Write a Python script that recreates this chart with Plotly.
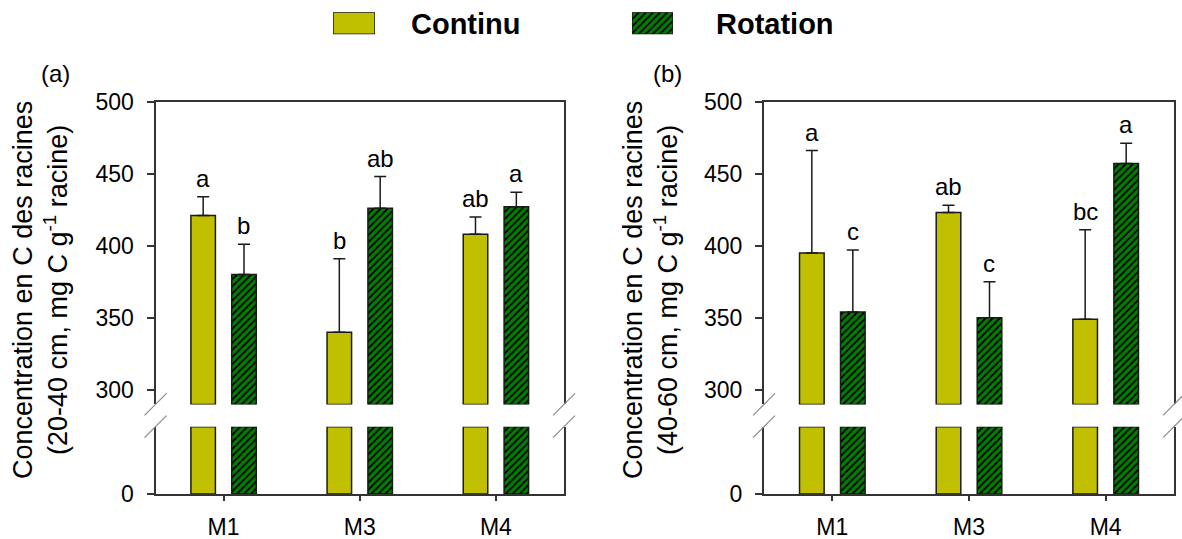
import numpy as np
import plotly.graph_objects as go

# ---------------- data ----------------
categories = ["M1", "M3", "M4"]
series_names = ["Continu", "Rotation"]

# panel (a) 20-40 cm
a_continu = [421, 340, 408]
a_continu_err = [13, 51, 12]
a_rotation = [380, 426, 427]
a_rotation_err = [21, 22, 10]
a_letters_continu = ["a", "b", "ab"]
a_letters_rotation = ["b", "ab", "a"]

# panel (b) 40-60 cm
b_continu = [395, 423, 349]
b_continu_err = [71, 5, 62]
b_rotation = [354, 350, 457]
b_rotation_err = [43, 25, 14]
b_letters_continu = ["a", "ab", "bc"]
b_letters_rotation = ["c", "c", "a"]

upper_ticks = [300, 350, 400, 450, 500]
lower_ticks = [0]

# ---------------- style / layout ----------------
W, H = 1182, 539
FONT = "Liberation Sans, Arial, sans-serif"
C_CONT = "#c0c000"
C_ROT = "#008000"
LINE = "#333333"
EDGE = "#1a1a1a"

UPPER_MIN, UPPER_MAX = 290, 500
LOWER_MIN, LOWER_MAX = 0, 50


def px_x(p):
    return p / W


def px_y(p):
    return 1 - p / H


PANEL_X = [(155.5, 564.0), (764.0, 1174.0)]
UP_Y = (101.5, 404.4)
LO_Y = (426.7, 494.0)
GROUP_OFFSET_PX = 20.4

fig = go.Figure()

panels = [
    (a_continu, a_continu_err, a_rotation, a_rotation_err, a_letters_continu, a_letters_rotation,
     "(20-40 cm, mg C g<sup>-1</sup> racine)", "(a)"),
    (b_continu, b_continu_err, b_rotation, b_rotation_err, b_letters_continu, b_letters_rotation,
     "(40-60 cm, mg C g<sup>-1</sup> racine)", "(b)"),
]

annotations = []
shapes = []

for pi, (cv, ce, rv, re_, lc, lr, sub, plabel) in enumerate(panels):
    up = 2 * pi + 1
    lo = 2 * pi + 2
    xu = "x" if up == 1 else f"x{up}"
    yu = "y" if up == 1 else f"y{up}"
    xl, yl = f"x{lo}", f"y{lo}"
    for name, vals, errs, color, pat in [
        ("Continu", cv, ce, C_CONT, ""),
        ("Rotation", rv, re_, C_ROT, "/"),
    ]:
        vals = np.array(vals, dtype=float)
        marker = dict(color=color, line=dict(color=EDGE, width=1.5),
                      pattern=dict(shape=pat, fgcolor="#000000", bgcolor=color,
                                   size=5, solidity=0.35, fillmode="replace"))
        fig.add_trace(go.Bar(
            x=categories, y=vals - UPPER_MIN, base=UPPER_MIN, name=name,
            marker=marker, xaxis=xu, yaxis=yu, showlegend=False,
            error_y=dict(type="data", symmetric=False, array=errs,
                         arrayminus=[0] * len(errs), color=EDGE, thickness=1.5, width=6),
        ))
        fig.add_trace(go.Bar(
            x=categories, y=np.minimum(vals, LOWER_MAX), name=name,
            marker=marker, xaxis=xl, yaxis=yl, showlegend=False,
        ))

    # letters
    for vals, errs, letters, sign in [(cv, ce, lc, -1), (rv, re_, lr, 1)]:
        for c, v, e, t in zip(categories, vals, errs, letters):
            annotations.append(dict(
                x=c, y=v + e, xref=xu, yref=yu, text=t, showarrow=False,
                xshift=sign * GROUP_OFFSET_PX, yshift=3, yanchor="bottom", xanchor="center",
                font=dict(family=FONT, size=24, color="#000"),
            ))

    x0, x1 = PANEL_X[pi]
    dom_x = [px_x(x0), px_x(x1)]
    common_x = dict(type="category", categoryorder="array", categoryarray=categories,
                    range=[-0.5, 2.5], domain=dom_x, showgrid=False, zeroline=False,
                    linecolor=LINE, linewidth=2, automargin=False)
    fig.update_layout(**{
        ("xaxis" if up == 1 else f"xaxis{up}"): dict(
            common_x, anchor=yu, side="top", showline=True, ticks="",
            showticklabels=False),
        f"xaxis{lo}": dict(
            common_x, anchor=yl, side="bottom", showline=True, ticks="outside",
            ticklen=5, tickwidth=2, tickcolor=LINE, ticklabelstandoff=6,
            tickfont=dict(family=FONT, size=23, color="#000")),
        ("yaxis" if up == 1 else f"yaxis{up}"): dict(
            anchor=xu, domain=[px_y(UP_Y[1]), px_y(UP_Y[0])], range=[UPPER_MIN, UPPER_MAX],
            tickvals=upper_ticks, showgrid=False, zeroline=False, showline=True, mirror=True,
            linecolor=LINE, linewidth=2, ticks="outside", ticklen=7, tickwidth=2,
            tickcolor=LINE, ticklabelstandoff=8, automargin=False,
            tickfont=dict(family=FONT, size=23, color="#000")),
        f"yaxis{lo}": dict(
            anchor=xl, domain=[px_y(LO_Y[1]), px_y(LO_Y[0])], range=[LOWER_MIN, LOWER_MAX],
            tickvals=lower_ticks, showgrid=False, zeroline=False, showline=True, mirror=True,
            linecolor=LINE, linewidth=2, ticks="outside", ticklen=7, tickwidth=2,
            tickcolor=LINE, ticklabelstandoff=8, automargin=False,
            tickfont=dict(family=FONT, size=23, color="#000")),
    })

    # axis title
    tx = 40 if pi == 0 else 650
    annotations.append(dict(
        x=px_x(tx), y=px_y(290), xref="paper", yref="paper", showarrow=False,
        text="Concentration en C des racines<br>" + sub, textangle=-90,
        xanchor="center", yanchor="middle",
        font=dict(family=FONT, size=27, color="#000")))
    # panel label
    lx = 39 if pi == 0 else 651
    annotations.append(dict(
        x=px_x(lx), y=px_y(74), xref="paper", yref="paper", showarrow=False,
        text=plabel, xanchor="left", yanchor="middle",
        font=dict(family=FONT, size=24, color="#000")))

    # axis-break marks
    for ax_px in (x0, x1):
        for yb in (UP_Y[1], LO_Y[0]):
            shapes.append(dict(
                type="line", xref="paper", yref="paper",
                x0=px_x(ax_px - 11), y0=px_y(yb + 11), x1=px_x(ax_px + 11), y1=px_y(yb - 11),
                line=dict(color="#8c8c8c", width=1.2)))

# ---------------- legend swatches (own small axes) ----------------
swatches = [
    ("Continu", C_CONT, "", (333, 375), 409),
    ("Rotation", C_ROT, "/", (632, 673), 714),
]
for i, (name, color, pat, (sx0, sx1), tx) in enumerate(swatches):
    n = 5 + i
    fig.add_trace(go.Bar(
        x=[0.5], y=[1], width=[1], name=name, showlegend=False, cliponaxis=False,
        marker=dict(color=color, line=dict(color=EDGE, width=1.5),
                    pattern=dict(shape=pat, fgcolor="#000000", bgcolor=color,
                                 size=5, solidity=0.35, fillmode="replace")),
        xaxis=f"x{n}", yaxis=f"y{n}", hoverinfo="skip"))
    fig.update_layout(**{
        f"xaxis{n}": dict(domain=[px_x(sx0), px_x(sx1)], range=[0, 1], visible=False,
                          anchor=f"y{n}", fixedrange=True, automargin=False),
        f"yaxis{n}": dict(domain=[px_y(34.3), px_y(12.3)], range=[0, 1], visible=False,
                          anchor=f"x{n}", fixedrange=True, automargin=False),
    })
    annotations.append(dict(
        x=px_x(tx), y=px_y(24), xref="paper", yref="paper", showarrow=False,
        text=f"<b>{name}</b>", xanchor="left", yanchor="middle",
        font=dict(family=FONT, size=29, color="#000")))

fig.update_layout(
    width=W, height=H, autosize=False,
    margin=dict(l=0, r=0, t=0, b=0, pad=0, autoexpand=False),
    paper_bgcolor="white", plot_bgcolor="white",
    barmode="group", bargap=0.4, bargroupgap=0.4,
    annotations=annotations, shapes=shapes, showlegend=False,
)

fig.write_html("out.html")
